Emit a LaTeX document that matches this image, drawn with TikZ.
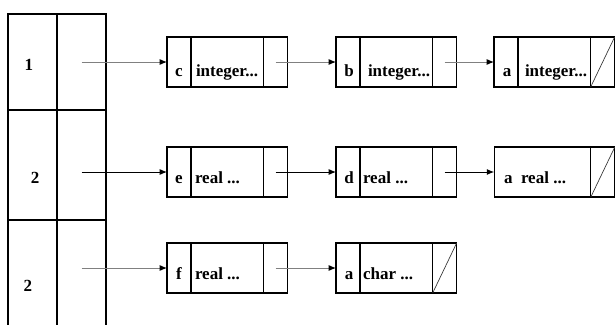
\documentclass[tikz,border=0pt]{standalone}
\usepackage{fontspec}
\setmainfont{Liberation Serif}
\usetikzlibrary{positioning,arrows.meta}

\begin{document}
\begin{tikzpicture}[x=0.75pt, y=-0.75pt, line width=0.8pt,
    every node/.style={font=\fontsize{12.75}{14}\selectfont\bfseries, inner sep=0pt, outer sep=0pt},
    tabcell/.style={draw, minimum width=36.75pt, anchor=north west},
    keycell/.style={draw, minimum width=18pt, minimum height=37.5pt},
    typecell/.style={draw, minimum width=54.5pt, minimum height=37.5pt},
    ptrcell/.style={draw, minimum width=18pt, minimum height=37.5pt},
    link/.style={-{Latex[length=5.5pt,width=4.5pt,color=black]}, line width=0.7pt},
    nilslash/.style={line width=0.5pt, black!80}]
                \useasboundingbox (0,0) rectangle (615,325);
                % Table on the left:
                \node[tabcell, minimum height=72pt](H1) at (8, 14){};
                \node[tabcell, minimum height=72pt](S1) at (57, 14){};
                \node[tabcell, minimum height=82.5pt](H2) at (8, 110){};
                \node[tabcell, minimum height=82.5pt](S2) at (57, 110){};
                \node[tabcell, minimum height=90pt](H3) at (8, 220){};
                \node[tabcell, minimum height=90pt](S3) at (57, 220){};
                \node[anchor=base](L1) at (29, 70){1};
                \node[anchor=base](L2) at (35, 183){2};
                \node[anchor=base](L3) at (28, 291){2};
                % First row of records:
                \node[keycell](K11) at (179, 62){};
                \node[typecell, right=0pt of K11](T11){};
                \node[ptrcell, right=0pt of T11](P11){};
                \node[keycell](K12) at (348, 62){};
                \node[typecell, right=0pt of K12](T12){};
                \node[ptrcell, right=0pt of T12](P12){};
                \node[keycell](K13) at (506, 62){};
                \node[typecell, right=0pt of K13](T13){};
                \node[ptrcell, right=0pt of T13](P13){};
                \node[anchor=base](c11) at (179, 76){c};
                \node[anchor=base west](d11) at (196, 76){integer...};
                \node[anchor=base](c12) at (349, 76){b};
                \node[anchor=base west](d12) at (368, 76){integer...};
                \node[anchor=base](c13) at (507, 76){a};
                \node[anchor=base west](d13) at (525, 76){integer...};
                % Second row of records:
                \node[keycell](K21) at (179, 172){};
                \node[typecell, right=0pt of K21](T21){};
                \node[ptrcell, right=0pt of T21](P21){};
                \node[keycell](K22) at (348, 172){};
                \node[typecell, right=0pt of K22](T22){};
                \node[ptrcell, right=0pt of T22](P22){};
                \node[draw, minimum width=72.5pt, minimum height=37.5pt](T23) at (542.5, 172){};
                \node[ptrcell, right=0pt of T23](P23){};
                \node[anchor=base](c21) at (179, 183){e};
                \node[anchor=base west](d21) at (195, 183){real ...};
                \node[anchor=base](c22) at (349, 183){d};
                \node[anchor=base west](d22) at (363, 183){real ...};
                \node[anchor=base west](d23) at (504, 183){a~~real ...};
                % Third row of records:
                \node[keycell](K31) at (179, 268){};
                \node[typecell, right=0pt of K31](T31){};
                \node[ptrcell, right=0pt of T31](P31){};
                \node[keycell](K32) at (348, 268){};
                \node[typecell, right=0pt of K32](T32){};
                \node[ptrcell, right=0pt of T32](P32){};
                \node[anchor=base](c31) at (179, 279){f};
                \node[anchor=base west](d31) at (195, 279){real ...};
                \node[anchor=base](c32) at (349, 279){a};
                \node[anchor=base west](d32) at (363, 279){char ...};
                % Links:
                \draw[link, gray] (S1.center |- K11.west) -- (K11.west);
                \draw[link, gray] (P11.center) -- (K12.west);
                \draw[link, gray] (P12.center) -- (K13.west);
                \draw[link] (S2.center |- K21.west) -- (K21.west);
                \draw[link] (P21.center) -- (K22.west);
                \draw[link] (P22.center) -- (T23.west);
                \draw[link, gray] (S3.center |- K31.west) -- (K31.west);
                \draw[link, gray] (P31.center) -- (K32.west);
                % Nil pointers:
                \draw[nilslash] (P13.south west) -- (P13.north east);
                \draw[nilslash] (P23.south west) -- (P23.north east);
                \draw[nilslash] (P32.south west) -- (P32.north east);
            \end{tikzpicture}
\end{document}
